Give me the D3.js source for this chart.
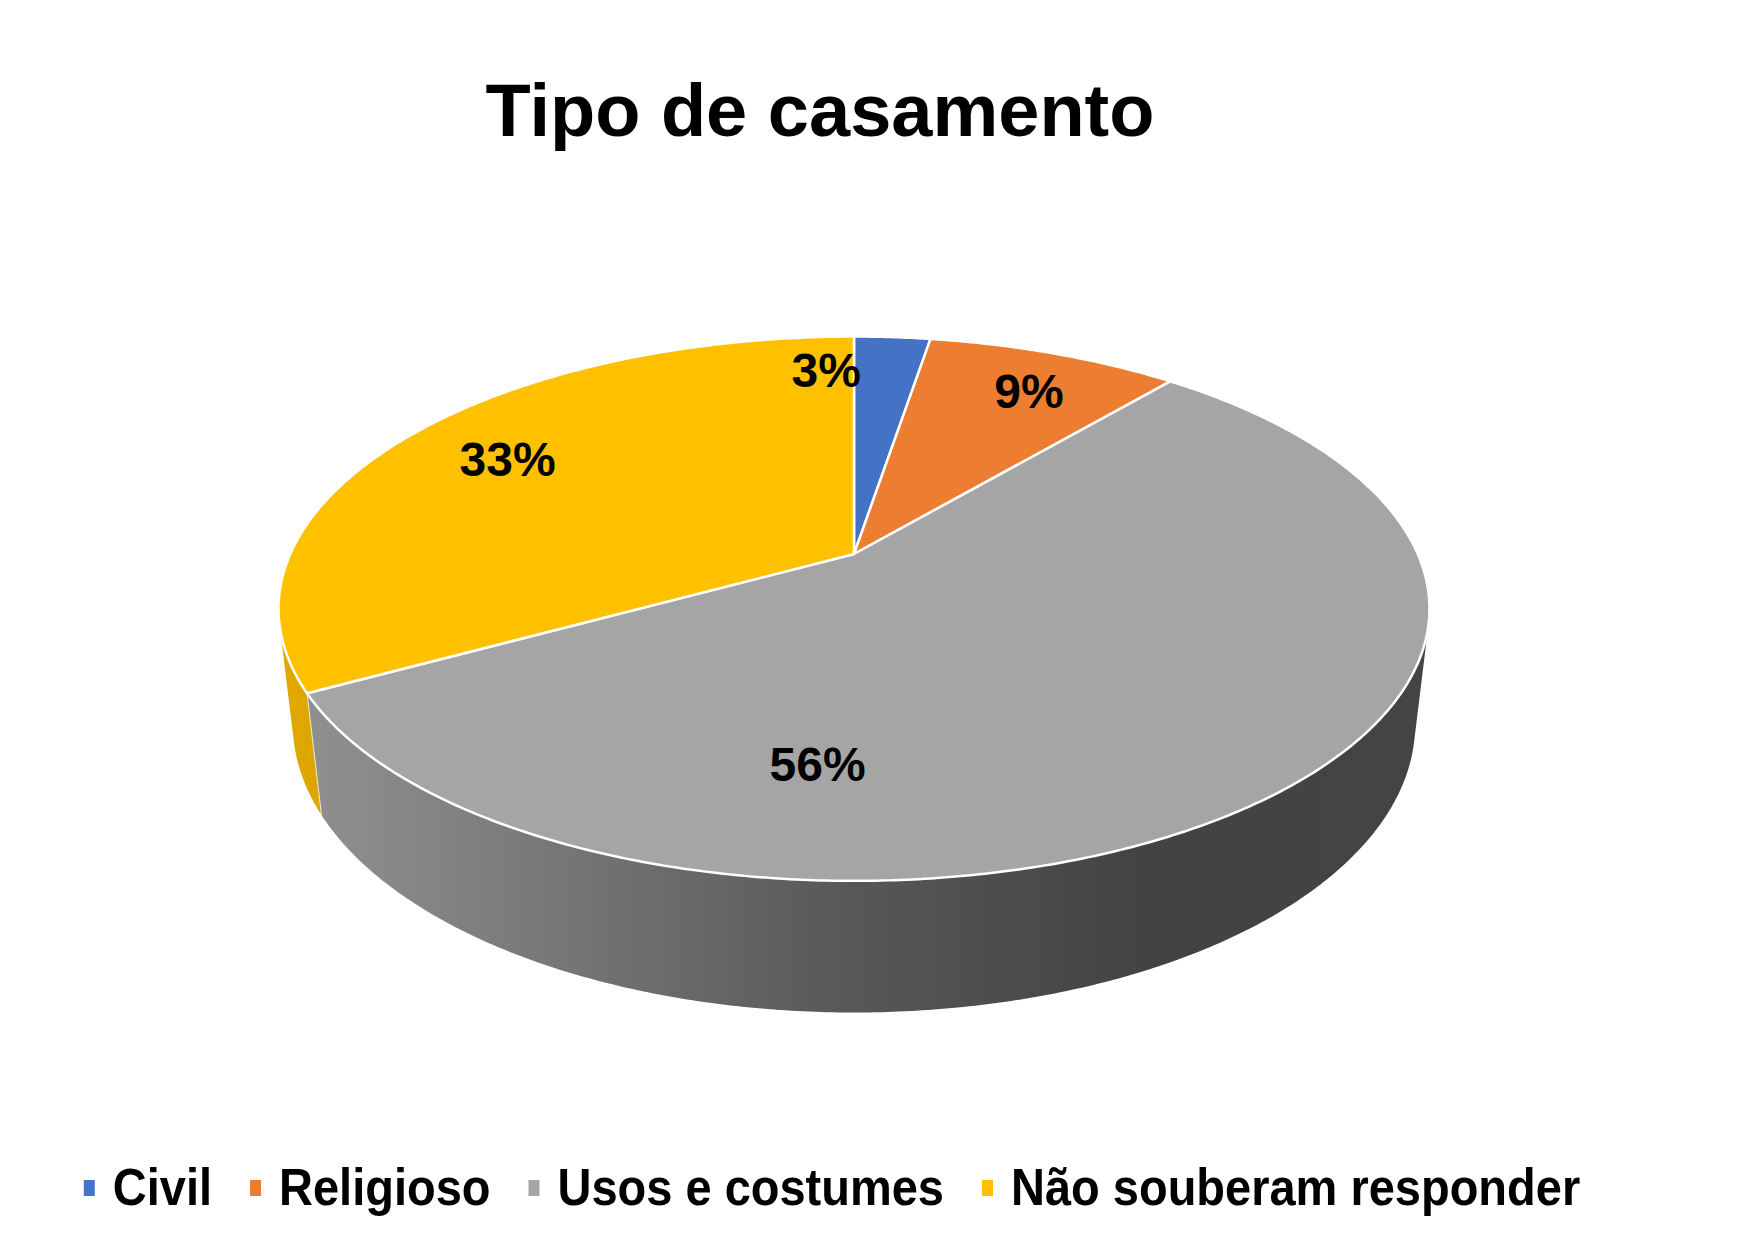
<!DOCTYPE html>
<meta charset="utf-8">
<style>
  html, body { margin: 0; padding: 0; background: #fff; overflow: hidden; }
  svg { display: block; }
  text { font-family: "Liberation Sans", Arial, sans-serif; font-weight: bold; fill: #000; }
</style>
<svg></svg>
<script src="https://d3js.org/d3.v7.min.js"></script>
<script>

var categories = ["Civil", "Religioso", "Usos e costumes", "Não souberam responder"];
var values = [2.6, 8.6, 55.8, 33.0];
var colours = ["#4472C4", "#ED7D31", "#A5A5A5", "#FFC000"];
var title = "Tipo de casamento";

var width = 1749, height = 1241;

var svg = d3.select("svg")
    .attr("width", width)
    .attr("height", height);

// perspective camera for the 3-D pie (radius 1 in plane units)
var cam = { D: 4.41, phi: 27.6 * Math.PI / 180, f: 2486, cx: 854, cy: 554, depth: 0.233 };
var cphi = Math.cos(cam.phi), sphi = Math.sin(cam.phi);

// theta: radians clockwise from the far point, z: 0 top face, -depth bottom
function project(theta, r, z) {
  var X = r * Math.sin(theta), Y = -r * Math.cos(theta);
  var dist = cam.D - (Y * cphi + z * sphi);
  var up = -Y * sphi + z * cphi;
  return [cam.cx + X * cam.f / dist, cam.cy - up * cam.f / dist];
}

function arcPoints(a0, a1, r, z) {
  var n = Math.max(2, Math.ceil(Math.abs(a1 - a0) / (Math.PI / 360)));
  return d3.range(n + 1).map(function(i) { return project(a0 + (a1 - a0) * i / n, r, z); });
}

var pie = d3.pie().sort(null).value(function(d) { return d; });
var arcs = pie(values);

var line = d3.line();

// side walls visible between the two tangent points
var tan = Math.acos(-1 / (cam.D * cphi));
var visLo = tan, visHi = 2 * Math.PI - tan;

var xLeft = project(visHi, 1, 0)[0], xRight = project(visLo, 1, 0)[0];

var defs = svg.append("defs");
colours.forEach(function(c, i) {
  var g = defs.append("linearGradient")
      .attr("id", "side" + i)
      .attr("gradientUnits", "userSpaceOnUse")
      .attr("x1", xLeft).attr("x2", xRight)
      .attr("y1", 0).attr("y2", 0);
  [[0, 0.35], [0.08, 0.5], [0.5, 1.8], [0.76, 2.55], [1, 2.5]].forEach(function(s) {
    g.append("stop").attr("offset", s[0]).attr("stop-color", d3.color(c).darker(s[1]));
  });
});

var pieG = svg.append("g");

// side faces
arcs.forEach(function(d, i) {
  var a0 = Math.max(d.startAngle, visLo), a1 = Math.min(d.endAngle, visHi);
  if (a1 <= a0) return;
  var pts = arcPoints(a0, a1, 1, 0).concat(arcPoints(a1, a0, 1, -cam.depth));
  pieG.append("path")
      .attr("d", line(pts) + "Z")
      .attr("fill", "url(#side" + i + ")");
});

// boundaries on the side wall
arcs.forEach(function(d) {
  var a = d.endAngle;
  if (a <= visLo || a >= visHi) return;
  pieG.append("path")
      .attr("d", line([project(a, 1, 0), project(a, 1, -cam.depth)]))
      .attr("stroke", "#fff")
      .attr("stroke-opacity", 0.6)
      .attr("stroke-width", 1.2)
      .attr("fill", "none");
});

// top faces
arcs.forEach(function(d, i) {
  var pts = [project(0, 0, 0)].concat(arcPoints(d.startAngle, d.endAngle, 1, 0));
  pieG.append("path")
      .attr("d", line(pts) + "Z")
      .attr("fill", colours[i])
      .attr("stroke", "#fff")
      .attr("stroke-width", 2.5)
      .attr("stroke-linejoin", "round");
});

// data labels (Excel best-fit spots, in plane angle / radius)
var labelSpot = [
  function(d) { return [-4 * Math.PI / 180, 0.823]; },
  function(d) { return [(d.startAngle + d.endAngle) / 2 + 1.5 * Math.PI / 180, 0.8]; },
  function(d) { return [184.6 * Math.PI / 180, 0.694]; },
  function(d) { return [(d.startAngle + d.endAngle) / 2, 0.77]; }
];

arcs.forEach(function(d, i) {
  var s = labelSpot[i](d);
  var p = project(s[0], s[1], 0);
  pieG.append("text")
      .attr("x", p[0])
      .attr("y", p[1])
      .attr("dy", "0.36em")
      .attr("text-anchor", "middle")
      .style("font-size", "48px")
      .text(Math.round(d.value) + "%");
});

// title
svg.append("text")
    .attr("x", 820)
    .attr("y", 136)
    .attr("text-anchor", "middle")
    .style("font-size", "74px")
    .text(title);

// legend
var legend = svg.append("g");
var x0 = 0, items = [];
categories.forEach(function(c, i) {
  var it = legend.append("g");
  it.append("rect")
      .attr("x", 0).attr("y", -25)
      .attr("width", 11).attr("height", 16)
      .attr("fill", colours[i]);
  var t = it.append("text")
      .attr("transform", "translate(29,0) scale(1,1.1)")
      .style("font-size", "47px")
      .text(c);
  var w = t.node().getComputedTextLength();
  it.attr("transform", "translate(" + x0 + ",0)");
  x0 += 29 + w + 38;
});
var legendW = x0 - 38;
legend.attr("transform", "translate(" + (832 - legendW / 2) + ",1205)");

</script>
